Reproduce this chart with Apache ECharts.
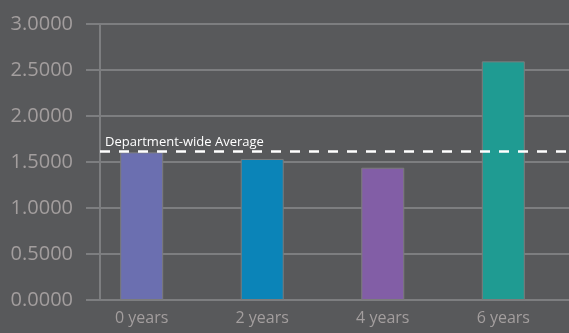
<!DOCTYPE html>
<html>
<head>
<meta charset="utf-8">
<script src="https://cdn.jsdelivr.net/npm/echarts@6/dist/echarts.min.js"></script>
<style>
  html, body { margin: 0; padding: 0; background: #58595b; }
  #chart { width: 569px; height: 333px; }
</style>
</head>
<body>
<div id="chart"></div>
<script>
// Years of service groups and their scores
const yearsOfService = [0, 2, 4, 6];
const categoryLabels = ['0 years', '2 years', '4 years', '6 years'];
const scores = [1.605, 1.533, 1.438, 2.594];
const barColors = ['#6b6fb0', '#0b84b8', '#825ea6', '#1f9b92'];
const departmentAverage = 1.612;
const averageLabel = 'Department-wide Average';
const yTicks = [0, 0.5, 1, 1.5, 2, 2.5, 3];

// x range of the plot; the reference line starts where the shifted y axis sits
const X_MIN = -0.924, X_MAX = 7.09;
const GRID_LEFT = 86, CHART_W = 569, AXIS_SHIFT = 14;
const unitsPerPx = (X_MAX - X_MIN) / (CHART_W - GRID_LEFT);
const lineStartX = X_MIN + AXIS_SHIFT * unitsPerPx;

const chart = echarts.init(document.getElementById('chart'));

chart.setOption({
  backgroundColor: '#58595b',
  animation: false,
  grid: { left: GRID_LEFT, right: 0, top: 24, bottom: 33 },
  xAxis: {
    type: 'value',
    min: X_MIN,
    max: X_MAX,
    splitLine: { show: false },
    axisLine: { show: false },
    axisTick: { show: false },
    axisLabel: {
      customValues: yearsOfService,
      formatter: v => categoryLabels[yearsOfService.indexOf(v)] || '',
      color: '#a39e9e',
      fontSize: 16,
      fontFamily: 'Open Sans',
      margin: 10
    }
  },
  yAxis: {
    type: 'value',
    min: yTicks[0],
    max: yTicks[yTicks.length - 1],
    interval: 0.5,
    offset: -AXIS_SHIFT,
    axisLine: { show: true, onZero: false, lineStyle: { color: '#7d7e80', width: 2 } },
    axisTick: { show: false },
    axisLabel: {
      formatter: v => v.toFixed(4),
      color: '#a39e9e',
      fontSize: 20,
      fontFamily: 'Open Sans',
      margin: 27
    },
    splitLine: { show: true, lineStyle: { color: '#7d7e80', width: 2 } }
  },
  series: [{
    type: 'bar',
    barWidth: 43,
    data: yearsOfService.map((x, i) => ({
      value: [x, scores[i]],
      itemStyle: { color: barColors[i], borderColor: '#7c7c7c', borderWidth: 1 }
    })),
    markLine: {
      symbol: 'none',
      silent: true,
      data: [[
        { coord: [lineStartX, departmentAverage] },
        { coord: [X_MAX, departmentAverage] }
      ]],
      lineStyle: { color: '#ffffff', type: [10, 9], width: 2.5 },
      label: {
        show: true,
        position: 'insideStartTop',
        formatter: averageLabel,
        color: '#ffffff',
        fontSize: 13,
        fontFamily: 'Open Sans',
        distance: [5, 3]
      }
    }
  }]
});
</script>
</body>
</html>
